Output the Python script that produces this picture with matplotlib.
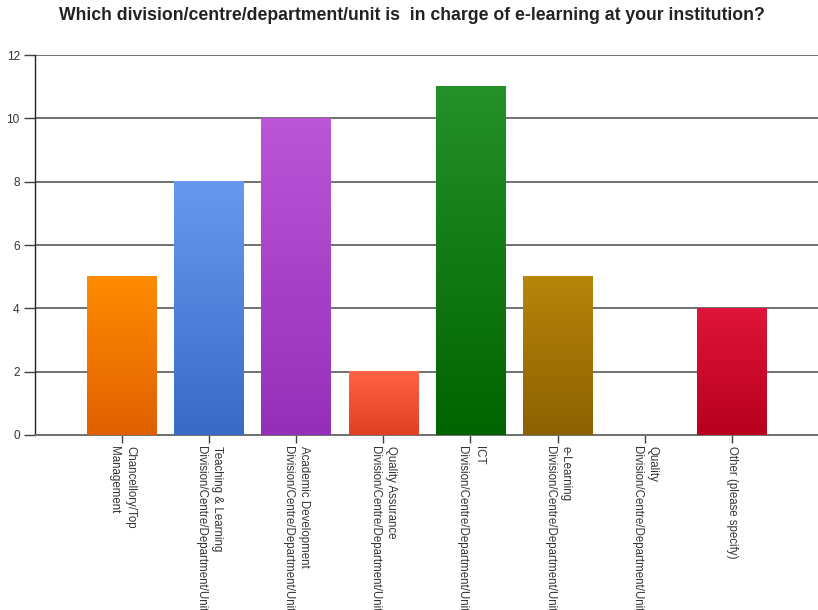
import matplotlib.pyplot as plt
import numpy as np
from matplotlib.colors import LinearSegmentedColormap

# Data
categories = [
    "Chancellory/Top\nManagement",
    "Teaching & Learning\nDivision/Centre/Department/Unit",
    "Academic Development\nDivision/Centre/Department/Unit",
    "Quality Assurance\nDivision/Centre/Department/Unit",
    "ICT\nDivision/Centre/Department/Unit",
    "e-Learning\nDivision/Centre/Department/Unit",
    "Quality\nDivision/Centre/Department/Unit",
    "Other (please specify)",
]
counts = [5, 8, 10, 2, 11, 5, 0, 4]
# (top colour, bottom colour) of each bar gradient
top_colors = ["#ff8c00", "#6898ee", "#bb55d8", "#ff6245", "#25902a", "#b8860b", "#999999", "#df143a"]
bottom_colors = ["#e06000", "#3a6ac6", "#9430b8", "#e04020", "#006400", "#8b6000", "#777777", "#b80020"]
yticks = [0, 2, 4, 6, 8, 10, 12]

plt.rcParams['font.family'] = ['Liberation Sans', 'DejaVu Sans']

fig = plt.figure(figsize=(8.18, 6.1), dpi=100)
ax = fig.add_axes([0.0428, 0.2869, 0.9572, 0.6229])

x = np.arange(len(categories))
bars = ax.bar(x, counts, width=0.8, color='none', zorder=3)

# vertical gradient fill for each bar
grad = np.linspace(0, 1, 256).reshape(-1, 1)
for rect, c_top, c_bot in zip(bars, top_colors, bottom_colors):
    h = rect.get_height()
    if h <= 0:
        continue
    cmap = LinearSegmentedColormap.from_list('g', [c_bot, c_top])
    x0 = rect.get_x()
    ax.imshow(grad, cmap=cmap, aspect='auto', origin='lower',
              extent=(x0, x0 + rect.get_width(), 0, h), zorder=3)

ax.set_xlim(-1, 7.99)
ax.set_ylim(0, 12)
ax.set_yticks(yticks)
ax.tick_params(axis='y', length=8, width=1, color='#404040', labelsize=8.5,
               labelcolor='#333333', pad=3)
ax.set_xticks(x)
ax.set_xticklabels(categories, rotation=270, fontsize=8.3, color='#333333',
                   family=['Liberation Sans Narrow', 'Liberation Sans', 'DejaVu Sans'],
                   va='top', ha='center', multialignment='left', linespacing=1.45)
ax.tick_params(axis='x', length=6, width=1, color='#404040', pad=2)

ax.grid(axis='y', color='#707070', linewidth=1.4, zorder=1)
ax.set_axisbelow(True)
for s in ['top', 'right']:
    ax.spines[s].set_visible(False)
ax.spines['left'].set_color('#222222')
ax.spines['left'].set_linewidth(1)
ax.spines['bottom'].set_color('#707070')
ax.spines['bottom'].set_linewidth(1.4)

fig.text(0.503, 0.974, "Which division/centre/department/unit is  in charge of e-learning at your institution?",
         ha='center', va='center', fontsize=12.7, fontweight='bold', color='#222222')

fig.savefig('out.png', dpi=100)
